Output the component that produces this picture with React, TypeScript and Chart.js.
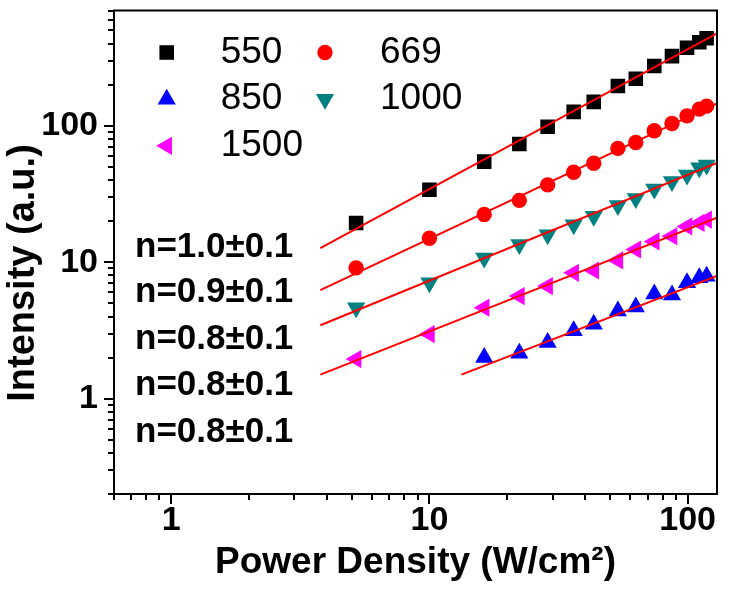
import React, { useEffect, useRef } from 'react';
import { Chart, registerables } from 'chart.js';
import { drawPoint } from 'chart.js/helpers';

Chart.register(...registerables);

// ---------- data ----------
const SERIES = ['550', '669', '850', '1000', '1500'];
const POWER = [5.2, 10, 16.3, 22.3, 28.7, 36.2, 43.3, 53.7, 63, 74.3, 87, 99.5, 111, 118.5];
const POWER_850 = [16.3, 22.3, 28.7, 36.2, 43.3, 53.7, 63, 74.3, 87, 99.5, 111, 118.5];
const I_550 = [19.4, 34, 54.6, 73.5, 98.3, 126.5, 149.7, 195.8, 221, 274, 324, 373, 410, 438];
const I_669 = [9.09, 15.0, 22.4, 28.4, 36.9, 45.6, 53.1, 68.3, 75.5, 91.9, 104, 118.3, 132.4, 139.3];
const I_850 = [2.0, 2.15, 2.58, 3.14, 3.51, 4.39, 4.69, 5.85, 5.75, 7.06, 7.68, 7.9];
const I_1000 = [4.64, 7.06, 10.75, 13.5, 15.9, 18.8, 21.7, 26.1, 29.3, 34.4, 39, 43.6, 49.3, 51.6];
const I_1500 = [1.95, 2.97, 4.64, 5.65, 6.68, 8.36, 8.7, 10.3, 12.4, 14.2, 15.5, 18.3, 19.4, 20.5];

// fitted lines: [start, end]
const FIT_550_X = [3.78, 130];
const FIT_550_Y = [12.7, 476];
const FIT_669_X = [3.78, 130];
const FIT_669_Y = [6.25, 146];
const FIT_850_X = [13.3, 130];
const FIT_850_Y = [1.5, 7.95];
const FIT_1000_X = [3.78, 130];
const FIT_1000_Y = [3.45, 53.5];
const FIT_1500_X = [3.78, 130];
const FIT_1500_Y = [1.5, 21.25];

const N_LABELS = ['n=1.0\u00b10.1', 'n=0.9\u00b10.1', 'n=0.8\u00b10.1', 'n=0.8\u00b10.1', 'n=0.8\u00b10.1'];

const X_TITLE = 'Power Density (W/cm\u00b2)';
const Y_TITLE = 'Intensity (a.u.)';

const X_MAJOR = [1, 10, 100];
const X_MINOR = [0.6, 0.7, 0.8, 0.9, 2, 3, 4, 5, 6, 7, 8, 9, 20, 30, 40, 50, 60, 70, 80, 90];
const Y_MAJOR = [1, 10, 100];
const Y_MINOR = [0.2, 0.3, 0.4, 0.5, 0.6, 0.7, 0.8, 0.9, 2, 3, 4, 5, 6, 7, 8, 9, 20, 30, 40, 50, 60, 70, 80, 90, 200, 300, 400, 500, 600, 700];

// ---------- styles ----------
const FONT = "'Liberation Sans', Arial, Helvetica, sans-serif";
const STYLES: Record<string, { color: string; pointStyle: string; radius: number; rotation: number }> = {
  '550': { color: '#000000', pointStyle: 'rect', radius: 10.3, rotation: 0 },
  '669': { color: '#ff0000', pointStyle: 'circle', radius: 7.7, rotation: 0 },
  '850': { color: '#0000ff', pointStyle: 'triangle', radius: 10.5, rotation: 0 },
  '1000': { color: '#008080', pointStyle: 'triangle', radius: 10.5, rotation: 180 },
  '1500': { color: '#ff00ff', pointStyle: 'triangle', radius: 10.5, rotation: 270 },
};

const pts = (xs: number[], ys: number[]) => xs.map((x, i) => ({ x, y: ys[i] }));

const decorPlugin = {
  id: 'decor',
  afterDatasetsDraw(chart: any) {
    const { ctx, chartArea: a, scales } = chart;
    const x = scales.x;
    const y = scales.y;
    ctx.save();
    // frame
    ctx.strokeStyle = '#000';
    ctx.lineWidth = 2;
    ctx.strokeRect(a.left, a.top, a.right - a.left, a.bottom - a.top);
    // minor ticks
    ctx.beginPath();
    X_MINOR.forEach((v) => {
      const px = Math.round(x.getPixelForValue(v));
      ctx.moveTo(px, a.bottom);
      ctx.lineTo(px, a.bottom + 6);
    });
    Y_MINOR.forEach((v) => {
      const py = Math.round(y.getPixelForValue(v));
      ctx.moveTo(a.left, py);
      ctx.lineTo(a.left - 6, py);
    });
    ctx.stroke();

    // legend (2 columns)
    const colMarker = [52.7, 211];
    const colText = [106.7, 266];
    const rowY = [42, 88.7, 135.3];
    ctx.font = `37px ${FONT}`;
    ctx.textBaseline = 'middle';
    ctx.textAlign = 'left';
    SERIES.forEach((name, i) => {
      const col = i % 2;
      const row = Math.floor(i / 2);
      const st = STYLES[name];
      const cx = a.left + colMarker[col];
      const cy = a.top + rowY[row];
      ctx.fillStyle = st.color;
      drawPoint(ctx, { pointStyle: st.pointStyle as any, radius: st.radius, rotation: st.rotation, borderWidth: 0 }, cx, cy);
      ctx.fillStyle = '#000';
      ctx.fillText(name, a.left + colText[col], cy);
    });

    // slope annotations
    const nY = [237, 282, 328.7, 375.3, 422];
    ctx.font = `bold 35px ${FONT}`;
    ctx.fillStyle = '#000';
    N_LABELS.forEach((t, i) => {
      ctx.fillText(t, a.left + 21, a.top + nY[i]);
    });

    // y-axis title
    ctx.translate(24, 273);
    ctx.rotate(-Math.PI / 2);
    ctx.textAlign = 'center';
    ctx.textBaseline = 'middle';
    ctx.font = `bold 38px ${FONT}`;
    ctx.fillText(Y_TITLE, 0, 0);
    ctx.restore();
  },
};

export default function App() {
  const ref = useRef<HTMLCanvasElement | null>(null);
  useEffect(() => {
    document.body.style.margin = '0';
    const canvas = ref.current;
    if (!canvas) return;

    const scatter = (name: string, xs: number[], ys: number[]) => {
      const st = STYLES[name];
      return {
        label: name,
        data: pts(xs, ys),
        showLine: false,
        pointStyle: st.pointStyle,
        pointRadius: st.radius,
        pointRotation: st.rotation,
        pointBackgroundColor: st.color,
        pointBorderColor: st.color,
        pointBorderWidth: 0,
        backgroundColor: st.color,
        borderColor: st.color,
        order: 2,
      };
    };
    const fit = (name: string, xs: number[], ys: number[]) => ({
      label: 'fit ' + name,
      data: pts(xs, ys),
      showLine: true,
      borderColor: '#ff0000',
      borderWidth: 2,
      pointRadius: 0,
      fill: false,
      order: 1,
    });

    const tickFont = { family: FONT, size: 34, weight: 'bold' as const, lineHeight: 1 };
    const grid = {
      display: true,
      drawOnChartArea: false,
      drawTicks: true,
      tickLength: 10,
      lineWidth: 2,
      color: '#000',
    };

    const chart = new Chart(canvas, {
      type: 'scatter',
      data: {
        datasets: [
          fit('550', FIT_550_X, FIT_550_Y),
          fit('669', FIT_669_X, FIT_669_Y),
          fit('850', FIT_850_X, FIT_850_Y),
          fit('1000', FIT_1000_X, FIT_1000_Y),
          fit('1500', FIT_1500_X, FIT_1500_Y),
          scatter('550', POWER, I_550),
          scatter('669', POWER, I_669),
          scatter('850', POWER_850, I_850),
          scatter('1000', POWER, I_1000),
          scatter('1500', POWER, I_1500),
        ] as any,
      },
      options: {
        animation: false,
        responsive: false,
        devicePixelRatio: 1,
        layout: { padding: { top: 8, right: 12, left: 0, bottom: 0 } },
        plugins: { legend: { display: false }, tooltip: { enabled: false } },
        scales: {
          x: {
            type: 'logarithmic',
            position: 'bottom',
            min: 0.6,
            max: 130,
            afterBuildTicks: (s: any) => {
              s.ticks = X_MAJOR.map((v) => ({ value: v, major: true }));
            },
            afterFit: (s: any) => {
              s.height = 95;
              s.paddingLeft = 0;
              s.paddingRight = 0;
            },
            ticks: {
              callback: (v: any) => String(v),
              font: tickFont,
              color: '#000',
              padding: 0,
              maxRotation: 0,
              autoSkip: false,
            },
            grid,
            border: { display: false },
            title: {
              display: true,
              text: X_TITLE,
              color: '#000',
              font: { family: FONT, size: 37, weight: 'bold', lineHeight: 1 },
              padding: { top: 0, bottom: 8 },
            },
          },
          y: {
            type: 'logarithmic',
            position: 'left',
            min: 0.2,
            max: 700,
            afterBuildTicks: (s: any) => {
              s.ticks = Y_MAJOR.map((v) => ({ value: v, major: true }));
            },
            afterFit: (s: any) => {
              s.width = 114;
              s.paddingTop = 0;
              s.paddingBottom = 0;
            },
            ticks: {
              callback: (v: any) => String(v),
              font: tickFont,
              color: '#000',
              padding: 6,
              autoSkip: false,
            },
            grid,
            border: { display: false },
            title: { display: false },
          },
        },
      } as any,
      plugins: [decorPlugin],
    });
    return () => chart.destroy();
  }, []);

  return (
    <div style={{ width: 729, height: 589 }}>
      <canvas ref={ref} width={729} height={589} style={{ display: 'block', width: 729, height: 589 }} />
    </div>
  );
}
